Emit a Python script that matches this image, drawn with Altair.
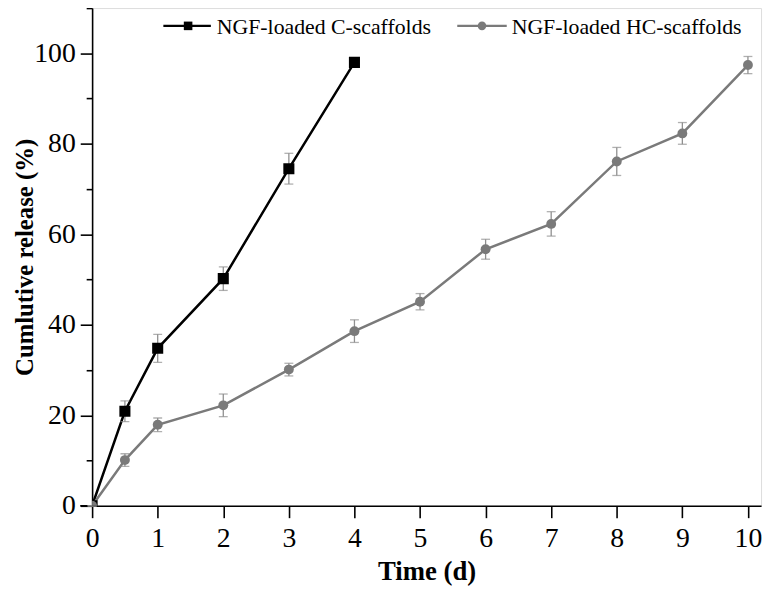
import altair as alt
import pandas as pd

series_names = ["NGF-loaded C-scaffolds", "NGF-loaded HC-scaffolds"]

time_c = [0, 0.5, 1, 2, 3, 4]
release_c = [0, 20.9, 34.8, 50.2, 74.5, 98.0]
err_c = [0, 2.3, 3.1, 2.6, 3.4, 1.0]

time_hc = [0, 0.5, 1, 2, 3, 4, 5, 6, 7, 8, 9, 10]
release_hc = [0, 10.1, 17.9, 22.2, 30.1, 38.6, 45.1, 56.7, 62.3, 76.1, 82.3, 97.4]
err_hc = [0, 1.4, 1.5, 2.5, 1.4, 2.5, 1.8, 2.2, 2.7, 3.1, 2.4, 1.9]

x_ticks = list(range(0, 11))
y_ticks = list(range(0, 111, 10))

colors = ["#000000", "#7a7a7a"]
err_color = "#8f8f8f"
FONT = "Liberation Serif"

rows = []
for t, v, e in zip(time_c, release_c, err_c):
    rows.append({"series": series_names[0], "t": t, "v": v, "lo": v - e, "hi": v + e})
for t, v, e in zip(time_hc, release_hc, err_hc):
    rows.append({"series": series_names[1], "t": t, "v": v, "lo": v - e, "hi": v + e})
df = pd.DataFrame(rows)

W, H = 676, 503

xs = alt.Scale(domain=[0, 10.2], nice=False, zero=False)
ys = alt.Scale(domain=[0, 110], nice=False)

xaxis = alt.Axis(values=x_ticks, format="d", title="Time (d)", grid=False, labelFont=FONT,
                 labelFontSize=28, labelColor="black", titleFont=FONT, titleFontSize=27,
                 titleFontWeight="bold", titleColor="black", domainColor="black", domainWidth=1.6,
                 tickColor="black", tickWidth=1.6, tickSize=12, labelPadding=7, titlePadding=6,
                 labelFlush=False)
yaxis = alt.Axis(values=y_ticks, title="Cumlutive release (%)", grid=False, labelFont=FONT,
                 labelFontSize=28, labelColor="black", titleFont=FONT, titleFontSize=25,
                 titleFontWeight="bold", titleColor="black", domainColor="black", domainWidth=1.6,
                 tickColor="black", tickWidth=1.6,
                 tickSize={"condition": {"test": "datum.value % 20 == 0", "value": 12}, "value": 6},
                 labelExpr="datum.value % 20 == 0 && datum.value <= 100 ? datum.label : ''",
                 labelPadding=5, titlePadding=-4, labelFlush=False)

base = alt.Chart(df)

color_enc = alt.Color("series:N", scale=alt.Scale(domain=series_names, range=colors), legend=None)

axes_layer = base.mark_point(opacity=0).encode(
    x=alt.X("t:Q", scale=xs, axis=xaxis),
    y=alt.Y("v:Q", scale=ys, axis=yaxis),
)

ext_rule = alt.Chart(pd.DataFrame({"a": [0]})).mark_rule(color="black", strokeWidth=1.6).encode(
    x=alt.value(-12), x2=alt.value(0), y=alt.value(H)
)

err_rule = base.mark_rule(color=err_color, strokeWidth=1.3).encode(
    x=alt.X("t:Q", scale=xs), y=alt.Y("lo:Q", scale=ys), y2="hi:Q"
)
err_lo = base.mark_tick(color=err_color, orient="horizontal", size=9, thickness=1.3).encode(
    x=alt.X("t:Q", scale=xs), y=alt.Y("lo:Q", scale=ys)
)
err_hi = base.mark_tick(color=err_color, orient="horizontal", size=9, thickness=1.3).encode(
    x=alt.X("t:Q", scale=xs), y=alt.Y("hi:Q", scale=ys)
)

lines = base.mark_line(strokeWidth=2.5, clip=True).encode(
    x=alt.X("t:Q", scale=xs), y=alt.Y("v:Q", scale=ys), color=color_enc, detail="series:N"
)

pts_c = alt.Chart(df[df.series == series_names[0]]).mark_point(
    shape="square", filled=True, size=125, opacity=1, clip=True, color=colors[0]
).encode(x=alt.X("t:Q", scale=xs), y=alt.Y("v:Q", scale=ys))
pts_hc = alt.Chart(df[df.series == series_names[1]]).mark_point(
    shape="circle", filled=True, size=100, opacity=1, clip=True, color=colors[1]
).encode(x=alt.X("t:Q", scale=xs), y=alt.Y("v:Q", scale=ys))

# legend
leg_y = 18
leg = []
leg_specs = [(72, 120, 97, "square", 0, 126), (369, 419, 394, "circle", 1, 424)]
one = pd.DataFrame({"a": [0]})
for x0, x1, xm, shp, i, xt in leg_specs:
    leg.append(alt.Chart(one).mark_rule(color=colors[i], strokeWidth=2.5).encode(
        x=alt.value(x0), x2=alt.value(x1), y=alt.value(leg_y)))
    leg.append(alt.Chart(one).mark_point(shape=shp, filled=True, size=75, opacity=1,
                                         color=colors[i]).encode(
        x=alt.value(xm), y=alt.value(leg_y)))
    leg.append(alt.Chart(one).mark_text(align="left", baseline="middle", font=FONT, fontSize=22,
                                        color="black").encode(
        x=alt.value(xt), y=alt.value(leg_y + 1), text=alt.value(series_names[i])))

chart = alt.layer(axes_layer, ext_rule, lines, err_rule, err_lo, err_hi, pts_c, pts_hc, *leg).properties(
    width=W, height=H, autosize=alt.AutoSizeParams(type="none"),
    padding={"left": 85, "top": -3, "right": 5, "bottom": 79}
).configure_view(stroke=None).configure(background="white")

chart.save("out.html", embed_options={"renderer": "svg", "actions": False})
